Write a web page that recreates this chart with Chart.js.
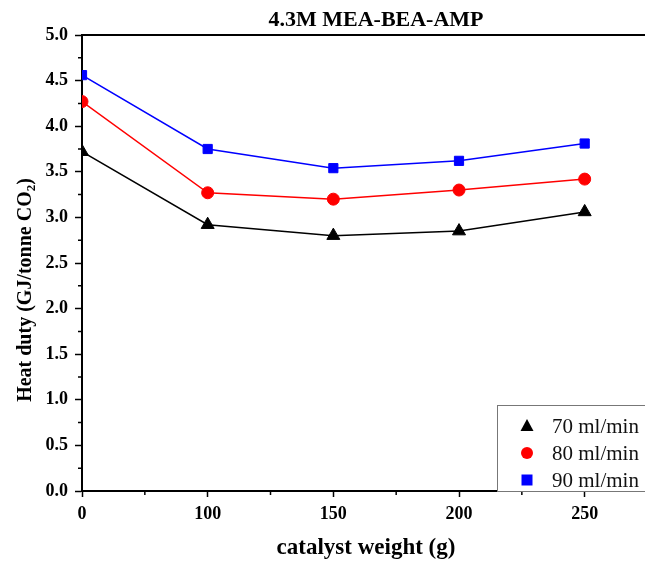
<!DOCTYPE html>
<html>
<head>
<meta charset="utf-8">
<script src="https://cdn.jsdelivr.net/npm/chart.js@4/dist/chart.umd.min.js"></script>
<style>
  body { margin: 0; background: #fff; }
  canvas { display: block; }
</style>
</head>
<body>
<canvas id="heatChart" width="645" height="561"></canvas>
<script>
const weights = ["0", "100", "150", "200", "250"];
const flow70 = [3.72, 2.92, 2.80, 2.85, 3.06];
const flow80 = [4.27, 3.27, 3.20, 3.30, 3.42];
const flow90 = [4.56, 3.75, 3.54, 3.62, 3.81];
const yTicks = [0, 0.5, 1, 1.5, 2, 2.5, 3, 3.5, 4, 4.5, 5];

const serif = "'Liberation Serif', 'Times New Roman', serif";

// wrap series onto equally spaced index positions (the original axis is evenly spaced)
const toPoints = (arr) => arr.map((v, i) => ({ x: i, y: v }));

const extras = {
    id: "extras",
    afterDraw(chart) {
        const { ctx, chartArea: area, scales } = chart;
        const x = scales.x, y = scales.y;
        ctx.save();

        // top frame line
        ctx.strokeStyle = "#000";
        ctx.lineWidth = 2;
        ctx.beginPath();
        ctx.moveTo(area.left, area.top);
        ctx.lineTo(area.right, area.top);
        ctx.stroke();

        // minor ticks
        ctx.lineWidth = 1.5;
        ctx.beginPath();
        for (let i = 0.5; i < x.max; i += 1) {
            const px = x.getPixelForValue(i);
            ctx.moveTo(px, area.bottom);
            ctx.lineTo(px, area.bottom + 4);
        }
        for (let v = 0.25; v < 5; v += 0.5) {
            const py = y.getPixelForValue(v);
            ctx.moveTo(area.left, py);
            ctx.lineTo(area.left - 4, py);
        }
        ctx.stroke();

        // titles
        ctx.fillStyle = "#000";
        ctx.textAlign = "center";
        ctx.textBaseline = "middle";
        ctx.font = "bold 22px " + serif;
        ctx.fillText("4.3M MEA-BEA-AMP", 376, 20);
        ctx.font = "bold 23px " + serif;
        ctx.fillText("catalyst weight (g)", 366, 548);

        ctx.save();
        ctx.translate(26, 290);
        ctx.rotate(-Math.PI / 2);
        ctx.font = "bold 20px " + serif;
        const main = "Heat duty (GJ/tonne CO";
        const wMain = ctx.measureText(main).width;
        ctx.font = "bold 13px " + serif;
        const wSub = ctx.measureText("2").width;
        ctx.font = "bold 20px " + serif;
        const wEnd = ctx.measureText(")").width;
        let start = -(wMain + wSub + wEnd) / 2;
        ctx.textAlign = "left";
        ctx.fillText(main, start, 0);
        ctx.font = "bold 13px " + serif;
        ctx.fillText("2", start + wMain, 6);
        ctx.font = "bold 20px " + serif;
        ctx.fillText(")", start + wMain + wSub, 0);
        ctx.restore();

        // legend
        const bx = 497, by = 405, bw = 160, bh = area.bottom - by;
        ctx.fillStyle = "#fff";
        ctx.fillRect(bx, by, bw, bh);
        ctx.strokeStyle = "#777";
        ctx.lineWidth = 1;
        ctx.strokeRect(bx + 0.5, by + 0.5, bw, bh);
        chart.data.datasets.forEach((ds, i) => {
            const cy = by + 21 + i * 27;
            const cx = 527;
            ctx.fillStyle = ds.pointBackgroundColor;
            ctx.beginPath();
            if (ds.pointStyle === "triangle") {
                ctx.moveTo(cx, cy - 7);
                ctx.lineTo(cx + 6.5, cy + 5);
                ctx.lineTo(cx - 6.5, cy + 5);
                ctx.closePath();
            } else if (ds.pointStyle === "circle") {
                ctx.arc(cx, cy, 6, 0, Math.PI * 2);
            } else {
                ctx.rect(cx - 5.5, cy - 5.5, 11, 11);
            }
            ctx.fill();
            ctx.fillStyle = "#111";
            ctx.font = "21px " + serif;
            ctx.textAlign = "left";
            ctx.textBaseline = "middle";
            ctx.fillText(ds.label, 552, cy + 1);
        });
        ctx.restore();
    },
};

const ctx = document.getElementById("heatChart").getContext("2d");
new Chart(ctx, {
    type: "line",
    data: {
        datasets: [
            { label: "70 ml/min", data: toPoints(flow70), borderColor: "#000", pointBackgroundColor: "#000", pointBorderColor: "#000", pointStyle: "triangle", pointRadius: 7.5, clip: { left: 0, top: 0, right: 0, bottom: 0 } },
            { label: "80 ml/min", data: toPoints(flow80), borderColor: "#ff0000", pointBackgroundColor: "#ff0000", pointBorderColor: "#ff0000", pointStyle: "circle", pointRadius: 6, clip: { left: 0, top: 0, right: 0, bottom: 0 } },
            { label: "90 ml/min", data: toPoints(flow90), borderColor: "#0000ff", pointBackgroundColor: "#0000ff", pointBorderColor: "#0000ff", pointStyle: "rect", pointRadius: 6.5, clip: { left: 0, top: 0, right: 0, bottom: 0 } },
        ],
    },
    options: {
        responsive: false,
        animation: false,
        elements: { line: { borderWidth: 1.5, tension: 0 }, point: { borderWidth: 1 } },
        layout: { autoPadding: false, padding: { top: 35, right: 0, left: 0, bottom: 0 } },
        plugins: { legend: { display: false }, tooltip: { enabled: false } },
        scales: {
            x: {
                type: "linear",
                min: 0,
                max: 4.48,
                afterFit: (s) => { s.height = 70; },
                afterBuildTicks: (s) => { s.ticks = weights.map((w, i) => ({ value: i })); },
                ticks: {
                    callback: (v) => weights[v] ?? "",
                    color: "#000",
                    font: { family: serif, size: 18, weight: "bold" },
                    padding: 7,
                    maxRotation: 0,
                },
                grid: { drawOnChartArea: false, drawTicks: true, tickLength: 6, tickWidth: 1.5, tickColor: "#000" },
                border: { color: "#000", width: 2 },
            },
            y: {
                min: 0,
                max: 5,
                afterFit: (s) => { s.width = 82; },
                afterBuildTicks: (s) => { s.ticks = yTicks.map((v) => ({ value: v })); },
                ticks: {
                    callback: (v) => v.toFixed(1),
                    color: "#000",
                    font: { family: serif, size: 18, weight: "bold" },
                    padding: 7,
                },
                grid: { drawOnChartArea: false, drawTicks: true, tickLength: 7, tickWidth: 1.5, tickColor: "#000" },
                border: { color: "#000", width: 2 },
            },
        },
    },
    plugins: [extras],
});
</script>
</body>
</html>
